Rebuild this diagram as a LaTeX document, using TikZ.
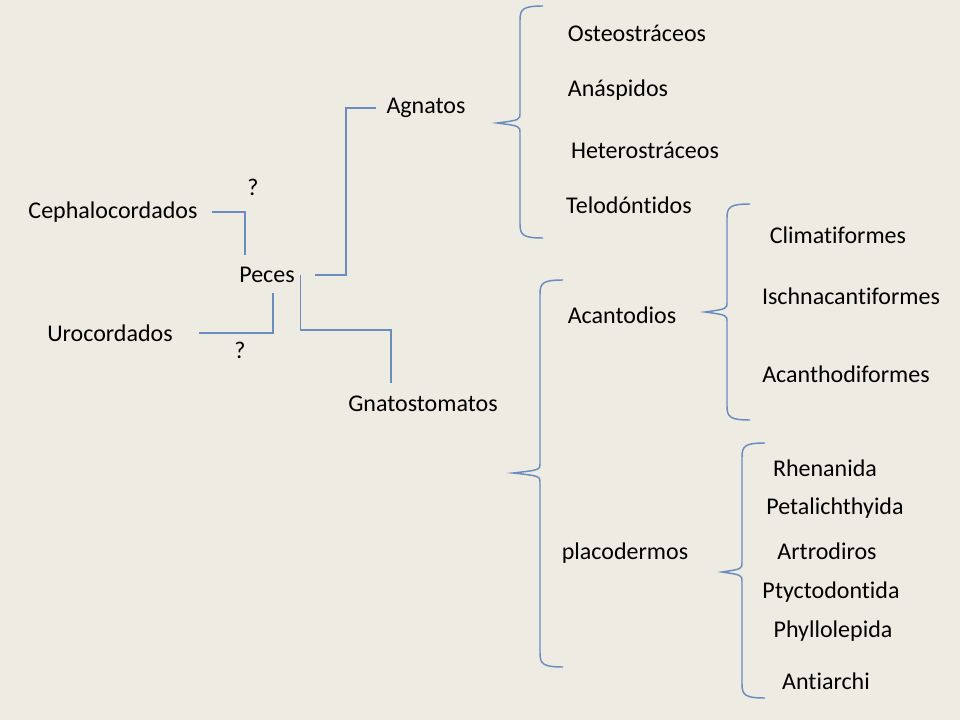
\documentclass[tikz,border=0pt]{standalone}
\usepackage{fontspec}
\setmainfont{Carlito}[Ligatures=NoCommon]
\definecolor{slidebg}{HTML}{EEEBE2}
\definecolor{linkblue}{HTML}{6A8DC0}
\tikzset{
  taxon/.style={inner sep=0pt, font=\fontsize{18}{20}\selectfont},
  link/.style={draw=linkblue, line width=1.1pt},
}
% brace: arm x, spine x, tip x, top y, tip y, bottom y
\newcommand{\taxbrace}[6]{%
  \draw[link] (#1,#4) .. controls (#2+3,#4) and (#2,#4+3) .. (#2,#4+14)
    -- (#2,#5-10) .. controls (#2,#5-3) .. (#3,#5)
    .. controls (#2,#5+3) .. (#2,#5+10)
    -- (#2,#6-14) .. controls (#2,#6-3) and (#2+3,#6) .. (#1,#6);}

\begin{document}
\begin{tikzpicture}[x=0.75pt,y=-0.75pt]
  \fill[slidebg] (0,0) rectangle (960,720);
  \useasboundingbox (0,0) rectangle (960,720);

  % left part
  \node[taxon] (ceph) at (113,212) {Cephalocordados};
  \node[taxon] (uro)  at (110,333) {Urocordados};
  \node[taxon] (q1)   at (253,187) {?};
  \node[taxon] (q2)   at (240,350) {?};
  \node[taxon] (peces) at (267,275) {Peces};
  \node[taxon] (agn)  at (426,108) {Agnatos};
  \node[taxon] (gnat) at (423,404) {Gnatostomatos};

  \draw[link] ([xshift=11pt]ceph.east) -| ([xshift=-16.5pt,yshift=9pt]peces.north);
  \draw[link] ([xshift=19.5pt]uro.east) -| ([xshift=4.5pt,yshift=-7.5pt]peces.south);
  \draw[link] ([xshift=15pt]peces.east) -- ++(31,0) |- ([xshift=-8pt]agn.west);
  \draw[link] ([xshift=4pt]peces.east) -- ++(0,55) -| ([xshift=-24pt,yshift=10pt]gnat.north);

  % agnatos
  \node[taxon] (osteo)  at (637,33)  {Osteostráceos};
  \node[taxon] (anasp)  at (618,90)  {Anáspidos};
  \node[taxon] (hetero) at (645,150) {Heterostráceos};
  \node[taxon] (telo)   at (629,205) {Telodóntidos};
  \taxbrace{543}{520}{497}{6}{123}{238}

  % gnatostomatos
  \node[taxon] (acant) at (622,315) {Acantodios};
  \node[taxon] (placo) at (625,553) {placodermos};
  \taxbrace{563}{540}{513}{280}{473}{667}

  \node[taxon] (clim)  at (838,235) {Climatiformes};
  \node[taxon] (isch)  at (851,296) {Ischnacantiformes};
  \node[taxon] (acanth) at (846,374) {Acanthodiformes};
  \taxbrace{750}{727}{705}{204}{312}{420}

  \node[taxon] (rhen)  at (825,468) {Rhenanida};
  \node[taxon] (petal) at (835,508) {Petalichthyida};
  \node[taxon] (artro) at (827,551) {Artrodiros};
  \node[taxon] (ptyc)  at (831,592) {Ptyctodontida};
  \node[taxon] (phyl)  at (833,631) {Phyllolepida};
  \node[taxon] (antia) at (826,681) {Antiarchi};
  \taxbrace{765}{742}{722}{443}{572}{698}
\end{tikzpicture}
\end{document}
